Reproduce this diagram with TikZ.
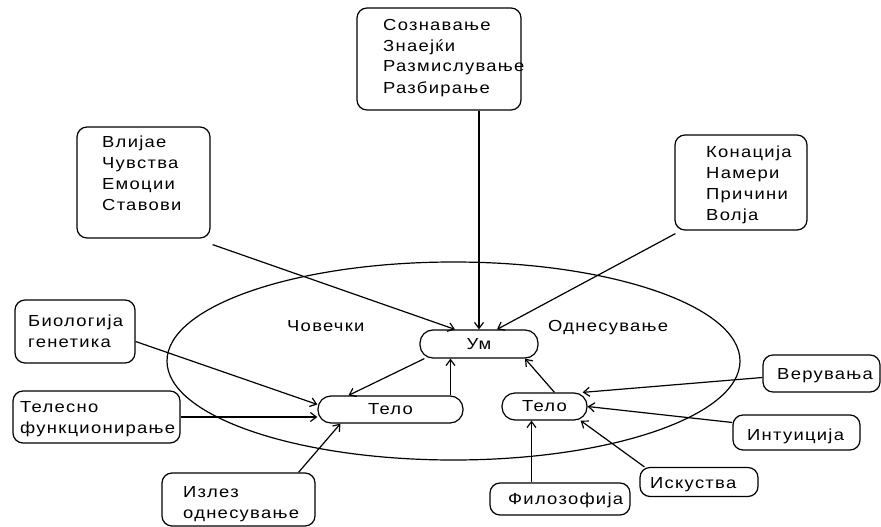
\documentclass[tikz,border=0pt]{standalone}
\usepackage{fontspec}
\setmainfont{Liberation Sans}[FakeStretch=1.15,LetterSpace=8]
\usetikzlibrary{arrows.meta}

\begin{document}
\begin{tikzpicture}[x=1pt, y=-1pt,
    font=\fontsize{16}{21}\selectfont,
    box/.style={draw, line width=1.2pt, rounded corners=10pt, inner sep=0pt},
    pill/.style={draw, line width=1.2pt, rounded corners=13pt, inner sep=0pt},
    txt/.style={inner sep=0pt, anchor=base west, align=left},
    arr/.style={-{Straight Barb[length=6pt,width=9pt]}, line width=1.2pt}
]
    \useasboundingbox (0,0) rectangle (881,527);

    % outer ellipse
    \draw [line width=1.2pt] (453.5,361) ellipse [x radius=286.5pt, y radius=99pt];

    % upper boxes (text placed by its last baseline)
    \node [box, minimum width=164pt, minimum height=102pt] (znaenje) at (439,59) {};
    \node [txt] (znaenjeT) at (383,93) {Сознавање\\Знаејќи\\Размислување\\Разбирање};
    \node [box, minimum width=133pt, minimum height=111pt] (afekt) at (143.5,182.5) {};
    \node [txt] (afektT) at (102,210) {Влијае\\Чувства\\Емоции\\Ставови};
    \node [box, minimum width=132pt, minimum height=95pt] (konac) at (741,182.5) {};
    \node [txt] (konacT) at (706,220) {Конација\\Намери\\Причини\\Волја};

    % inner nodes
    \node [pill, minimum width=118pt, minimum height=28pt] (um) at (479,344) {Ум};
    \node [pill, minimum width=145pt, minimum height=27pt] (teloL) at (390.5,409.5) {Тело};
    \node [pill, minimum width=85pt, minimum height=27pt] (teloR) at (544.5,406.5) {Тело};
    \node [txt] (covecki) at (287,331) {Човечки};
    \node [txt] (odnes) at (548,331) {Однесување};

    % left boxes
    \node [box, minimum width=120pt, minimum height=63pt] (bio) at (75,331.5) {};
    \node [txt] (bioT) at (28,347) {Биологија\\генетика};
    \node [box, minimum width=167pt, minimum height=52pt] (telf) at (96.5,417) {};
    \node [txt] (telfT) at (20,433) {Телесно\\функционирање};
    \node [box, minimum width=153pt, minimum height=53pt] (izlez) at (238.5,499.5) {};
    \node [txt] (izlezT) at (183,518) {Излез\\однесување};

    % right boxes
    \node [box, minimum width=117pt, minimum height=37pt] (veru) at (821.5,373.5) {};
    \node [txt] (veruT) at (777,379) {Верувања};
    \node [box, minimum width=127pt, minimum height=35pt] (intu) at (796.5,432.5) {};
    \node [txt] (intuT) at (747,440) {Интуиција};
    \node [box, minimum width=118pt, minimum height=29pt] (isk) at (699,482) {};
    \node [txt] (iskT) at (650,488) {Искуства};
    \node [box, minimum width=140pt, minimum height=32pt] (filo) at (560,499) {};
    \node [txt] (filoT) at (508,504) {Филозофија};

    % arrows into the mind
    \draw [arr] (znaenje.south -| um.north) -- (um.north);
    \draw [arr] ([shift={(2pt,-6pt)}]afekt.south east) -- ([xshift=-24pt]um.north);
    \draw [arr] ([shift={(1pt,-3pt)}]konac.south west) -- ([xshift=18pt]um.north);
    \coordinate (tl) at ([xshift=60pt]teloL.north);
    \draw [arr] (tl) -- (tl |- um.south);
    \draw [arr] ([xshift=10pt]teloR.north) -- ([xshift=46pt]um.south);
    \draw [arr] ([xshift=5pt]um.south west) -- ([xshift=-42pt]teloL.north);

    % arrows into the left body
    \draw [arr] ([yshift=-10pt]bio.east) -- ([yshift=5pt]teloL.west);
    \draw [arr] (telf.east) -- (telf.east -| teloL.west);
    \draw [arr] ([xshift=60pt]izlez.north) -- ([xshift=-50pt]teloL.south);

    % arrows into the right body
    \draw [arr] ([yshift=-4pt]veru.west) -- ([xshift=-5pt]teloR.north east);
    \draw [arr] ([yshift=10pt]intu.west) -- (teloR.east);
    \draw [arr] ([xshift=5pt]isk.north west) -- ([xshift=-7pt]teloR.south east);
    \coordinate (tr) at ([xshift=-13pt]teloR.south);
    \draw [arr] (tr |- filo.north) -- (tr);
\end{tikzpicture}
\end{document}
